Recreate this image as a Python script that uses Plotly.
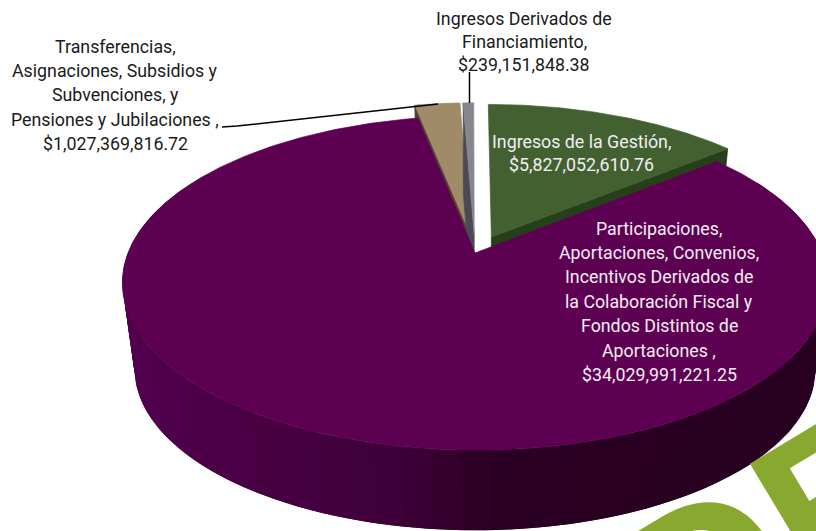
import numpy as np
import plotly.graph_objects as go

categories = ["Ingresos de la Gestión",
              "Participaciones, Aportaciones, Convenios, Incentivos Derivados de la Colaboración Fiscal y Fondos Distintos de Aportaciones",
              "Transferencias, Asignaciones, Subsidios y Subvenciones, y Pensiones y Jubilaciones",
              "Ingresos Derivados de Financiamiento"]
values = [5827052610.76, 34029991221.25, 1027369816.72, 239151848.38]
explode = [0.112, 0.0, 0.115, 0.115]
top_colors = ["#436031", "#5e0052", "#a08a68", "#85868e"]
wall_colors = ["#26401a", "#3c0038", "#4f4030", "#4a4a55"]

label_lines = [
    ["Ingresos de la Gestión,", "$5,827,052,610.76"],
    ["Participaciones,", "Aportaciones, Convenios,", "Incentivos Derivados de",
     "la Colaboración Fiscal y", "Fondos Distintos de", "Aportaciones ,", "$34,029,991,221.25"],
    ["Transferencias,", "Asignaciones, Subsidios y", "Subvenciones, y",
     "Pensiones y Jubilaciones ,", "$1,027,369,816.72"],
    ["Ingresos Derivados de", "Financiamiento,", "$239,151,848.38"],
]
label_x = [581, 659, 115, 524]
label_y0 = [141, 228, 46, 18]
label_dy = [23, 24.4, 24.5, 23]
label_color = ["#f2eef2", "#f2eef2", "#1a1a1a", "#1a1a1a"]
watermark = "DE"

W, H = 816, 531
VX, X0, K = 471.0, 4.0, 0.18
RX, RY = 347.0, 161.7
LEVELS = {0: (253.0, 1.0), 1: (340.0, 0.965)}


def proj(u, v, level=0):
    cy, s = LEVELS[level]
    w = 1 + K * v
    return VX + s * (RX * u + X0) / w, cy - s * RY * v / w


def arc(a0, a1, du, dv, level=0, n=120):
    t = np.radians(np.linspace(a0, a1, n))
    return proj(np.sin(t) + du, np.cos(t) + dv, level)


def poly(fig, xs, ys, color, name, lw=0.7):
    fig.add_trace(go.Scatter(x=list(xs), y=list(ys), mode="lines", fill="toself",
                             fillcolor=color, line=dict(color=color, width=lw),
                             hoverinfo="skip", name=name, showlegend=False))


fracs = np.array(values) / np.sum(values)
ends = np.cumsum(fracs) * 360
starts = ends - fracs * 360
fig = go.Figure()

# exploded slices: radial wall then top face
wall_edge = [ends[0], None, starts[2], starts[3]]
for i in [0, 2, 3]:
    mid = np.radians((starts[i] + ends[i]) / 2)
    if mid > np.pi:
        mid -= 2 * np.pi
    du, dv = explode[i] * np.sin(mid), explode[i] * np.cos(mid)
    e = np.radians(wall_edge[i])
    ax0, ay0 = proj(du, dv, 0)
    ax1, ay1 = proj(du, dv, 1)
    cx0, cy0 = proj(np.sin(e) + du, np.cos(e) + dv, 0)
    cx1, cy1 = proj(np.sin(e) + du, np.cos(e) + dv, 1)
    poly(fig, [ax0, cx0, cx1, ax1, ax0], [ay0, cy0, cy1, ay1, ay0], wall_colors[i], categories[i])
    ax, ay = arc(starts[i], ends[i], du, dv)
    poly(fig, np.r_[ax0, ax, ax0], np.r_[ay0, ay, ay0], top_colors[i], categories[i])

# main slice: shaded outer wall in small overlapping strips, left to right
wall_x = [122, 400, 500, 816]
wall_r = [82, 62, 42, 40]
wall_b = [78, 56, 36, 32]
edges = np.linspace(298, 62, 60)
step = edges[0] - edges[1]
for a0, a1 in zip(edges[:-1], edges[1:]):
    tx, ty = arc(a0, max(a1 - step, 62), 0, 0, 0, 6)
    bx, by = arc(max(a1 - step, 62), a0, 0, 0, 1, 6)
    mx, _ = arc(a0, a1, 0, 0, 0, 3)
    xm = float(np.mean(mx))
    c = "rgb(%d,%d,%d)" % (np.interp(xm, wall_x, wall_r), 0, np.interp(xm, wall_x, wall_b))
    poly(fig, np.r_[tx, bx, tx[0]], np.r_[ty, by, ty[0]], c, categories[1], lw=0)

ax, ay = arc(starts[1], ends[1], 0, 0, 0, 400)
a0x, a0y = proj(0, 0, 0)
poly(fig, np.r_[a0x, ax, a0x], np.r_[a0y, ay, a0y], top_colors[1], categories[1])

for lines, x, y0, dy, c in zip(label_lines, label_x, label_y0, label_dy, label_color):
    for j, line in enumerate(lines):
        fig.add_annotation(x=x / W, y=1 - (y0 + j * dy) / H, xref="paper", yref="paper", showarrow=False,
                           text=line, align="center", xanchor="center", yanchor="middle",
                           font=dict(family="Roboto", size=17.8, color=c))

fig.add_annotation(x=771 / W, y=1 - 539 / H, xref="paper", yref="paper", showarrow=False,
                   text="<b>%s</b>" % watermark, textangle=-31, xanchor="center", yanchor="middle",
                   font=dict(family="Liberation Sans", size=220, color="#88a82f"))

leader = dict(type="path", line=dict(color="#000000", width=1.5), layer="above")
fig.update_layout(
    width=W, height=H, margin=dict(l=0, r=0, t=0, b=0), showlegend=False,
    paper_bgcolor="#ffffff", plot_bgcolor="#ffffff",
    xaxis=dict(range=[0, W], visible=False, fixedrange=True),
    yaxis=dict(range=[H, 0], visible=False, fixedrange=True),
    shapes=[dict(leader, path="M222,127 L237,126 L438,104"),
            dict(leader, path="M469.5,72 L469.5,103")],
)
fig.write_html("out.html", config=dict(displayModeBar=False),
               post_script="document.body.style.margin='0';document.body.style.overflow='hidden';")
